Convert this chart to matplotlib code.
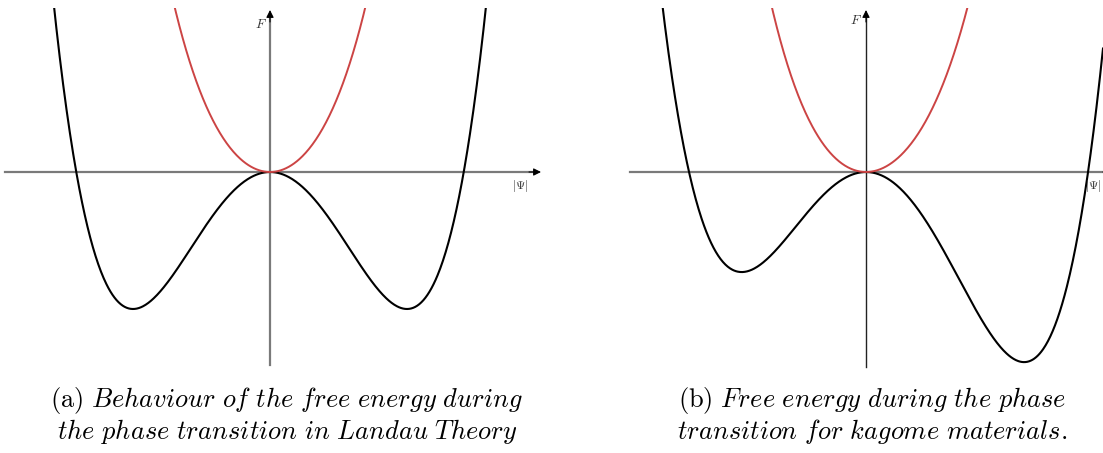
import numpy as np
import matplotlib
matplotlib.use("Agg")
import matplotlib.pyplot as plt

plt.rcParams['mathtext.fontset'] = 'cm'

# Landau free-energy expansions F(psi), polynomial coefficients (psi^4 ... psi^0)
landau_below = [0.389, 0.0, -1.46, 0.0, 0.0]   # ordered phase, symmetric double well
landau_above = [0.389, 0.0, 1.46, 0.0, 0.0]    # disordered phase
kagome_below = [0.355, -0.16, -1.395, 0.0, 0.0]  # cubic term breaks the symmetry
kagome_above = [0.355, -0.16, 1.395, 0.0, 0.0]

captions = [
    [r"$\mathrm{(a)}\ \mathit{Behaviour\ of\ the\ free\ energy\ during}$",
     r"$\mathit{the\ phase\ transition\ in\ Landau\ Theory}$"],
    [r"$\mathrm{(b)}\ \mathit{Free\ energy\ during\ the\ phase}$",
     r"$\mathit{transition\ for\ kagome\ materials.}$"],
]

W, H = 1103, 453
fig = plt.figure(figsize=(W / 100, H / 100), dpi=100)


def px_axes(x0, x1, y0, y1):
    # axes placed from pixel coordinates (y measured from the top)
    return fig.add_axes([x0 / W, (H - y1) / H, (x1 - x0) / W, (y1 - y0) / H])


BLACK = '#000000'
RED = '#cc4444'
GREY = '#7a7a7a'

panels = [
    dict(box=(5, 545, 8, 368), ox=270, curves=(landau_below, landau_above),
         xcol=GREY, ycol=GREY, xlw=1.6, ylw=1.6, xend=541, ybot=365, ytip=10,
         flab=(261, 25), plab=(520, 186), plab_ha='center'),
    dict(box=(630, 1103, 8, 368), ox=866, curves=(kagome_below, kagome_above),
         xcol=GREY, ycol='#222222', xlw=1.6, ylw=1.0, xend=1115, ybot=367, ytip=10,
         flab=(856, 20), plab=(1101, 186), plab_ha='right'),
]

oy = 172
for p in panels:
    x0, x1, y0, y1 = p['box']
    ax = px_axes(x0, x1, y0, y1)
    ox = p['ox']
    ax.set_xlim((x0 - ox) / 100, (x1 - ox) / 100)
    ax.set_ylim((oy - y1) / 100, (oy - y0) / 100)
    ax.axis('off')

    # coordinate axes with arrow heads
    xa0, xa1 = (x0 - ox) / 100, (p['xend'] - ox) / 100
    ax.plot([xa0, xa1 - 0.05], [0, 0], color=p['xcol'], lw=p['xlw'],
            clip_on=False, zorder=1)
    ax.annotate('', xy=(xa1, 0), xytext=(xa1 - 0.12, 0),
                arrowprops=dict(arrowstyle='-|>', color='black', lw=0.8,
                                mutation_scale=11, shrinkA=0, shrinkB=0),
                annotation_clip=False)
    yb, yt = (oy - p['ybot']) / 100, (oy - p['ytip']) / 100
    ax.plot([0, 0], [yb, yt - 0.05], color=p['ycol'], lw=p['ylw'],
            clip_on=False, zorder=1)
    ax.annotate('', xy=(0, yt), xytext=(0, yt - 0.12),
                arrowprops=dict(arrowstyle='-|>', color='black', lw=0.8,
                                mutation_scale=11, shrinkA=0, shrinkB=0),
                annotation_clip=False)

    psi = np.linspace(ax.get_xlim()[0], ax.get_xlim()[1], 800)
    below, above = p['curves']
    ax.plot(psi, np.polyval(below, psi), color=BLACK, lw=1.5, zorder=2)
    ax.plot(psi, np.polyval(above, psi), color=RED, lw=1.4, zorder=3)

    fx, fy = p['flab']
    ax.text((fx - ox) / 100, (oy - fy) / 100, r'$F$', fontsize=9.5,
            ha='center', va='center', color='#333333')
    lx, ly = p['plab']
    ax.text((lx - ox) / 100, (oy - ly) / 100, r'$|\Psi|$', fontsize=8.5,
            ha=p['plab_ha'], va='center', color='#333333', clip_on=False)

# captions under each panel
for cx, lines in zip((287, 872), captions):
    fig.text(cx / W, 1 - 401 / H, lines[0], fontsize=19, ha='center', va='center')
    fig.text(cx / W, 1 - 432 / H, lines[1], fontsize=19, ha='center', va='center')

fig.savefig('out.png', dpi=100)
